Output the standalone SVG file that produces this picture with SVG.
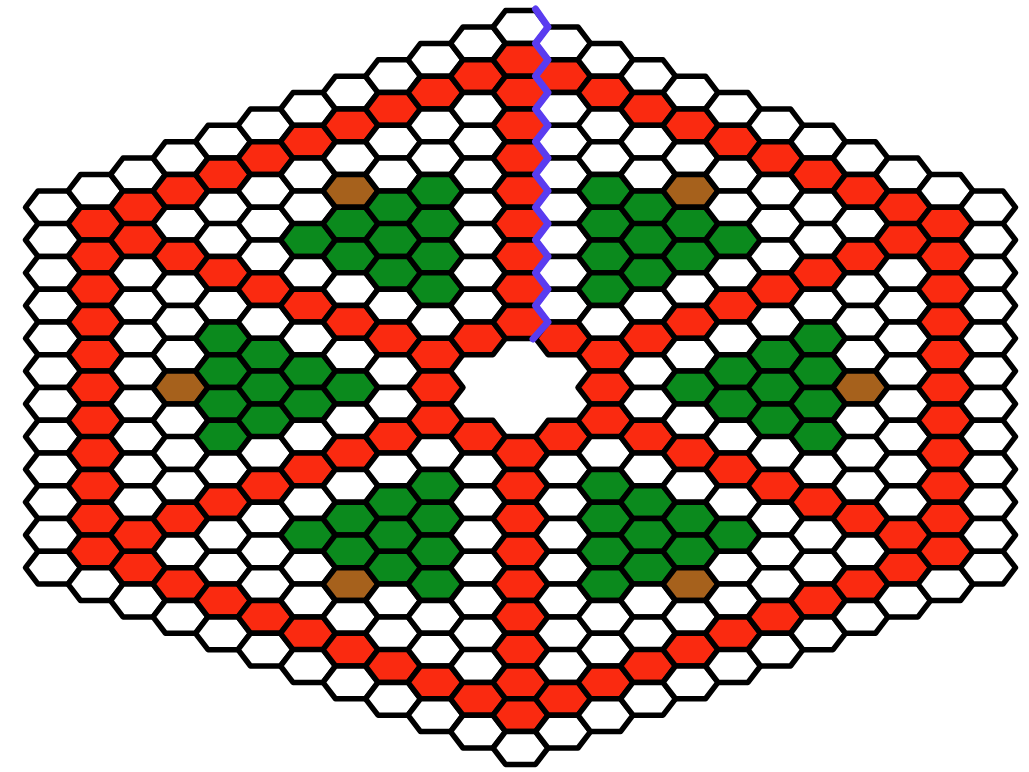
<svg xmlns="http://www.w3.org/2000/svg" width="1029" height="772" viewBox="0 0 1029 772">
<style>
.w{fill:#ffffff}.r{fill:#fa2a10}.g{fill:#0b8a1d}.b{fill:#a6611c}
.cut{fill:none;stroke:#5a3cf0;stroke-width:7;stroke-linejoin:round;stroke-linecap:round}
</style>
<defs><path id="h" d="M-27.5 0L-15 -16.385H15L27.5 0L15 16.385H-15Z" stroke="#000" stroke-width="5.5" stroke-linejoin="round"/></defs>
<rect width="1029" height="772" fill="#fff"/>
<g id="board">
<g id="col-m11" transform="translate(53 0)"><use href="#h" y="207.3" class="w"/><use href="#h" y="240" class="w"/><use href="#h" y="272.8" class="w"/><use href="#h" y="305.6" class="w"/><use href="#h" y="338.3" class="w"/><use href="#h" y="371.1" class="w"/><use href="#h" y="403.9" class="w"/><use href="#h" y="436.7" class="w"/><use href="#h" y="469.4" class="w"/><use href="#h" y="502.2" class="w"/><use href="#h" y="535" class="w"/><use href="#h" y="567.7" class="w"/></g>
<g id="col-m10" transform="translate(95.5 0)"><use href="#h" y="190.9" class="w"/><use href="#h" y="223.7" class="r"/><use href="#h" y="256.4" class="r"/><use href="#h" y="289.2" class="r"/><use href="#h" y="322" class="r"/><use href="#h" y="354.7" class="r"/><use href="#h" y="387.5" class="r"/><use href="#h" y="420.3" class="r"/><use href="#h" y="453" class="r"/><use href="#h" y="485.8" class="r"/><use href="#h" y="518.6" class="r"/><use href="#h" y="551.3" class="r"/><use href="#h" y="584.1" class="w"/></g>
<g id="col-m9" transform="translate(138 0)"><use href="#h" y="174.5" class="w"/><use href="#h" y="207.3" class="r"/><use href="#h" y="240" class="r"/><use href="#h" y="272.8" class="w"/><use href="#h" y="305.6" class="w"/><use href="#h" y="338.3" class="w"/><use href="#h" y="371.1" class="w"/><use href="#h" y="403.9" class="w"/><use href="#h" y="436.7" class="w"/><use href="#h" y="469.4" class="w"/><use href="#h" y="502.2" class="w"/><use href="#h" y="535" class="r"/><use href="#h" y="567.7" class="r"/><use href="#h" y="600.5" class="w"/></g>
<g id="col-m8" transform="translate(180.5 0)"><use href="#h" y="158.1" class="w"/><use href="#h" y="190.9" class="r"/><use href="#h" y="223.7" class="w"/><use href="#h" y="256.4" class="r"/><use href="#h" y="289.2" class="w"/><use href="#h" y="322" class="w"/><use href="#h" y="354.7" class="w"/><use href="#h" y="387.5" class="b"/><use href="#h" y="420.3" class="w"/><use href="#h" y="453" class="w"/><use href="#h" y="485.8" class="w"/><use href="#h" y="518.6" class="r"/><use href="#h" y="551.3" class="w"/><use href="#h" y="584.1" class="r"/><use href="#h" y="616.9" class="w"/></g>
<g id="col-m7" transform="translate(223 0)"><use href="#h" y="141.7" class="w"/><use href="#h" y="174.5" class="r"/><use href="#h" y="207.3" class="w"/><use href="#h" y="240" class="w"/><use href="#h" y="272.8" class="r"/><use href="#h" y="305.6" class="w"/><use href="#h" y="338.3" class="g"/><use href="#h" y="371.1" class="g"/><use href="#h" y="403.9" class="g"/><use href="#h" y="436.7" class="g"/><use href="#h" y="469.4" class="w"/><use href="#h" y="502.2" class="r"/><use href="#h" y="535" class="w"/><use href="#h" y="567.7" class="w"/><use href="#h" y="600.5" class="r"/><use href="#h" y="633.3" class="w"/></g>
<g id="col-m6" transform="translate(265.5 0)"><use href="#h" y="125.3" class="w"/><use href="#h" y="158.1" class="r"/><use href="#h" y="190.9" class="w"/><use href="#h" y="223.7" class="w"/><use href="#h" y="256.4" class="w"/><use href="#h" y="289.2" class="r"/><use href="#h" y="322" class="w"/><use href="#h" y="354.7" class="g"/><use href="#h" y="387.5" class="g"/><use href="#h" y="420.3" class="g"/><use href="#h" y="453" class="w"/><use href="#h" y="485.8" class="r"/><use href="#h" y="518.6" class="w"/><use href="#h" y="551.3" class="w"/><use href="#h" y="584.1" class="w"/><use href="#h" y="616.9" class="r"/><use href="#h" y="649.6" class="w"/></g>
<g id="col-m5" transform="translate(308 0)"><use href="#h" y="109" class="w"/><use href="#h" y="141.7" class="r"/><use href="#h" y="174.5" class="w"/><use href="#h" y="207.3" class="w"/><use href="#h" y="240" class="g"/><use href="#h" y="272.8" class="w"/><use href="#h" y="305.6" class="r"/><use href="#h" y="338.3" class="w"/><use href="#h" y="371.1" class="g"/><use href="#h" y="403.9" class="g"/><use href="#h" y="436.7" class="w"/><use href="#h" y="469.4" class="r"/><use href="#h" y="502.2" class="w"/><use href="#h" y="535" class="g"/><use href="#h" y="567.7" class="w"/><use href="#h" y="600.5" class="w"/><use href="#h" y="633.3" class="r"/><use href="#h" y="666" class="w"/></g>
<g id="col-m4" transform="translate(350.5 0)"><use href="#h" y="92.6" class="w"/><use href="#h" y="125.3" class="r"/><use href="#h" y="158.1" class="w"/><use href="#h" y="190.9" class="b"/><use href="#h" y="223.7" class="g"/><use href="#h" y="256.4" class="g"/><use href="#h" y="289.2" class="w"/><use href="#h" y="322" class="r"/><use href="#h" y="354.7" class="w"/><use href="#h" y="387.5" class="g"/><use href="#h" y="420.3" class="w"/><use href="#h" y="453" class="r"/><use href="#h" y="485.8" class="w"/><use href="#h" y="518.6" class="g"/><use href="#h" y="551.3" class="g"/><use href="#h" y="584.1" class="b"/><use href="#h" y="616.9" class="w"/><use href="#h" y="649.6" class="r"/><use href="#h" y="682.4" class="w"/></g>
<g id="col-m3" transform="translate(393 0)"><use href="#h" y="76.2" class="w"/><use href="#h" y="109" class="r"/><use href="#h" y="141.7" class="w"/><use href="#h" y="174.5" class="w"/><use href="#h" y="207.3" class="g"/><use href="#h" y="240" class="g"/><use href="#h" y="272.8" class="g"/><use href="#h" y="305.6" class="w"/><use href="#h" y="338.3" class="r"/><use href="#h" y="371.1" class="w"/><use href="#h" y="403.9" class="w"/><use href="#h" y="436.7" class="r"/><use href="#h" y="469.4" class="w"/><use href="#h" y="502.2" class="g"/><use href="#h" y="535" class="g"/><use href="#h" y="567.7" class="g"/><use href="#h" y="600.5" class="w"/><use href="#h" y="633.3" class="w"/><use href="#h" y="666" class="r"/><use href="#h" y="698.8" class="w"/></g>
<g id="col-m2" transform="translate(435.5 0)"><use href="#h" y="59.8" class="w"/><use href="#h" y="92.6" class="r"/><use href="#h" y="125.3" class="w"/><use href="#h" y="158.1" class="w"/><use href="#h" y="190.9" class="g"/><use href="#h" y="223.7" class="g"/><use href="#h" y="256.4" class="g"/><use href="#h" y="289.2" class="g"/><use href="#h" y="322" class="w"/><use href="#h" y="354.7" class="r"/><use href="#h" y="387.5" class="r"/><use href="#h" y="420.3" class="r"/><use href="#h" y="453" class="w"/><use href="#h" y="485.8" class="g"/><use href="#h" y="518.6" class="g"/><use href="#h" y="551.3" class="g"/><use href="#h" y="584.1" class="g"/><use href="#h" y="616.9" class="w"/><use href="#h" y="649.6" class="w"/><use href="#h" y="682.4" class="r"/><use href="#h" y="715.2" class="w"/></g>
<g id="col-m1" transform="translate(478 0)"><use href="#h" y="43.4" class="w"/><use href="#h" y="76.2" class="r"/><use href="#h" y="109" class="w"/><use href="#h" y="141.7" class="w"/><use href="#h" y="174.5" class="w"/><use href="#h" y="207.3" class="w"/><use href="#h" y="240" class="w"/><use href="#h" y="272.8" class="w"/><use href="#h" y="305.6" class="w"/><use href="#h" y="338.3" class="r"/><use href="#h" y="436.7" class="r"/><use href="#h" y="469.4" class="w"/><use href="#h" y="502.2" class="w"/><use href="#h" y="535" class="w"/><use href="#h" y="567.7" class="w"/><use href="#h" y="600.5" class="w"/><use href="#h" y="633.3" class="w"/><use href="#h" y="666" class="w"/><use href="#h" y="698.8" class="r"/><use href="#h" y="731.6" class="w"/></g>
<g id="col-0" transform="translate(520.5 0)"><use href="#h" y="27" class="w"/><use href="#h" y="59.8" class="r"/><use href="#h" y="92.6" class="r"/><use href="#h" y="125.3" class="r"/><use href="#h" y="158.1" class="r"/><use href="#h" y="190.9" class="r"/><use href="#h" y="223.7" class="r"/><use href="#h" y="256.4" class="r"/><use href="#h" y="289.2" class="r"/><use href="#h" y="322" class="r"/><use href="#h" y="453" class="r"/><use href="#h" y="485.8" class="r"/><use href="#h" y="518.6" class="r"/><use href="#h" y="551.3" class="r"/><use href="#h" y="584.1" class="r"/><use href="#h" y="616.9" class="r"/><use href="#h" y="649.6" class="r"/><use href="#h" y="682.4" class="r"/><use href="#h" y="715.2" class="r"/><use href="#h" y="748" class="w"/></g>
<g id="col-p1" transform="translate(563 0)"><use href="#h" y="43.4" class="w"/><use href="#h" y="76.2" class="r"/><use href="#h" y="109" class="w"/><use href="#h" y="141.7" class="w"/><use href="#h" y="174.5" class="w"/><use href="#h" y="207.3" class="w"/><use href="#h" y="240" class="w"/><use href="#h" y="272.8" class="w"/><use href="#h" y="305.6" class="w"/><use href="#h" y="338.3" class="r"/><use href="#h" y="436.7" class="r"/><use href="#h" y="469.4" class="w"/><use href="#h" y="502.2" class="w"/><use href="#h" y="535" class="w"/><use href="#h" y="567.7" class="w"/><use href="#h" y="600.5" class="w"/><use href="#h" y="633.3" class="w"/><use href="#h" y="666" class="w"/><use href="#h" y="698.8" class="r"/><use href="#h" y="731.6" class="w"/></g>
<g id="col-p2" transform="translate(605.5 0)"><use href="#h" y="59.8" class="w"/><use href="#h" y="92.6" class="r"/><use href="#h" y="125.3" class="w"/><use href="#h" y="158.1" class="w"/><use href="#h" y="190.9" class="g"/><use href="#h" y="223.7" class="g"/><use href="#h" y="256.4" class="g"/><use href="#h" y="289.2" class="g"/><use href="#h" y="322" class="w"/><use href="#h" y="354.7" class="r"/><use href="#h" y="387.5" class="r"/><use href="#h" y="420.3" class="r"/><use href="#h" y="453" class="w"/><use href="#h" y="485.8" class="g"/><use href="#h" y="518.6" class="g"/><use href="#h" y="551.3" class="g"/><use href="#h" y="584.1" class="g"/><use href="#h" y="616.9" class="w"/><use href="#h" y="649.6" class="w"/><use href="#h" y="682.4" class="r"/><use href="#h" y="715.2" class="w"/></g>
<g id="col-p3" transform="translate(648 0)"><use href="#h" y="76.2" class="w"/><use href="#h" y="109" class="r"/><use href="#h" y="141.7" class="w"/><use href="#h" y="174.5" class="w"/><use href="#h" y="207.3" class="g"/><use href="#h" y="240" class="g"/><use href="#h" y="272.8" class="g"/><use href="#h" y="305.6" class="w"/><use href="#h" y="338.3" class="r"/><use href="#h" y="371.1" class="w"/><use href="#h" y="403.9" class="w"/><use href="#h" y="436.7" class="r"/><use href="#h" y="469.4" class="w"/><use href="#h" y="502.2" class="g"/><use href="#h" y="535" class="g"/><use href="#h" y="567.7" class="g"/><use href="#h" y="600.5" class="w"/><use href="#h" y="633.3" class="w"/><use href="#h" y="666" class="r"/><use href="#h" y="698.8" class="w"/></g>
<g id="col-p4" transform="translate(690.5 0)"><use href="#h" y="92.6" class="w"/><use href="#h" y="125.3" class="r"/><use href="#h" y="158.1" class="w"/><use href="#h" y="190.9" class="b"/><use href="#h" y="223.7" class="g"/><use href="#h" y="256.4" class="g"/><use href="#h" y="289.2" class="w"/><use href="#h" y="322" class="r"/><use href="#h" y="354.7" class="w"/><use href="#h" y="387.5" class="g"/><use href="#h" y="420.3" class="w"/><use href="#h" y="453" class="r"/><use href="#h" y="485.8" class="w"/><use href="#h" y="518.6" class="g"/><use href="#h" y="551.3" class="g"/><use href="#h" y="584.1" class="b"/><use href="#h" y="616.9" class="w"/><use href="#h" y="649.6" class="r"/><use href="#h" y="682.4" class="w"/></g>
<g id="col-p5" transform="translate(733 0)"><use href="#h" y="109" class="w"/><use href="#h" y="141.7" class="r"/><use href="#h" y="174.5" class="w"/><use href="#h" y="207.3" class="w"/><use href="#h" y="240" class="g"/><use href="#h" y="272.8" class="w"/><use href="#h" y="305.6" class="r"/><use href="#h" y="338.3" class="w"/><use href="#h" y="371.1" class="g"/><use href="#h" y="403.9" class="g"/><use href="#h" y="436.7" class="w"/><use href="#h" y="469.4" class="r"/><use href="#h" y="502.2" class="w"/><use href="#h" y="535" class="g"/><use href="#h" y="567.7" class="w"/><use href="#h" y="600.5" class="w"/><use href="#h" y="633.3" class="r"/><use href="#h" y="666" class="w"/></g>
<g id="col-p6" transform="translate(775.5 0)"><use href="#h" y="125.3" class="w"/><use href="#h" y="158.1" class="r"/><use href="#h" y="190.9" class="w"/><use href="#h" y="223.7" class="w"/><use href="#h" y="256.4" class="w"/><use href="#h" y="289.2" class="r"/><use href="#h" y="322" class="w"/><use href="#h" y="354.7" class="g"/><use href="#h" y="387.5" class="g"/><use href="#h" y="420.3" class="g"/><use href="#h" y="453" class="w"/><use href="#h" y="485.8" class="r"/><use href="#h" y="518.6" class="w"/><use href="#h" y="551.3" class="w"/><use href="#h" y="584.1" class="w"/><use href="#h" y="616.9" class="r"/><use href="#h" y="649.6" class="w"/></g>
<g id="col-p7" transform="translate(818 0)"><use href="#h" y="141.7" class="w"/><use href="#h" y="174.5" class="r"/><use href="#h" y="207.3" class="w"/><use href="#h" y="240" class="w"/><use href="#h" y="272.8" class="r"/><use href="#h" y="305.6" class="w"/><use href="#h" y="338.3" class="g"/><use href="#h" y="371.1" class="g"/><use href="#h" y="403.9" class="g"/><use href="#h" y="436.7" class="g"/><use href="#h" y="469.4" class="w"/><use href="#h" y="502.2" class="r"/><use href="#h" y="535" class="w"/><use href="#h" y="567.7" class="w"/><use href="#h" y="600.5" class="r"/><use href="#h" y="633.3" class="w"/></g>
<g id="col-p8" transform="translate(860.5 0)"><use href="#h" y="158.1" class="w"/><use href="#h" y="190.9" class="r"/><use href="#h" y="223.7" class="w"/><use href="#h" y="256.4" class="r"/><use href="#h" y="289.2" class="w"/><use href="#h" y="322" class="w"/><use href="#h" y="354.7" class="w"/><use href="#h" y="387.5" class="b"/><use href="#h" y="420.3" class="w"/><use href="#h" y="453" class="w"/><use href="#h" y="485.8" class="w"/><use href="#h" y="518.6" class="r"/><use href="#h" y="551.3" class="w"/><use href="#h" y="584.1" class="r"/><use href="#h" y="616.9" class="w"/></g>
<g id="col-p9" transform="translate(903 0)"><use href="#h" y="174.5" class="w"/><use href="#h" y="207.3" class="r"/><use href="#h" y="240" class="r"/><use href="#h" y="272.8" class="w"/><use href="#h" y="305.6" class="w"/><use href="#h" y="338.3" class="w"/><use href="#h" y="371.1" class="w"/><use href="#h" y="403.9" class="w"/><use href="#h" y="436.7" class="w"/><use href="#h" y="469.4" class="w"/><use href="#h" y="502.2" class="w"/><use href="#h" y="535" class="r"/><use href="#h" y="567.7" class="r"/><use href="#h" y="600.5" class="w"/></g>
<g id="col-p10" transform="translate(945.5 0)"><use href="#h" y="190.9" class="w"/><use href="#h" y="223.7" class="r"/><use href="#h" y="256.4" class="r"/><use href="#h" y="289.2" class="r"/><use href="#h" y="322" class="r"/><use href="#h" y="354.7" class="r"/><use href="#h" y="387.5" class="r"/><use href="#h" y="420.3" class="r"/><use href="#h" y="453" class="r"/><use href="#h" y="485.8" class="r"/><use href="#h" y="518.6" class="r"/><use href="#h" y="551.3" class="r"/><use href="#h" y="584.1" class="w"/></g>
<g id="col-p11" transform="translate(988 0)"><use href="#h" y="207.3" class="w"/><use href="#h" y="240" class="w"/><use href="#h" y="272.8" class="w"/><use href="#h" y="305.6" class="w"/><use href="#h" y="338.3" class="w"/><use href="#h" y="371.1" class="w"/><use href="#h" y="403.9" class="w"/><use href="#h" y="436.7" class="w"/><use href="#h" y="469.4" class="w"/><use href="#h" y="502.2" class="w"/><use href="#h" y="535" class="w"/><use href="#h" y="567.7" class="w"/></g>
</g>
<g id="connectors">
<polyline class="cut" points="535.5,9 548,27 535.5,43.4 548,59.8 535.5,76.2 548,92.6 535.5,109 548,125.3 535.5,141.7 548,158.1 535.5,174.5 548,190.9 535.5,207.3 548,223.7 535.5,240 548,256.4 535.5,272.8 548,289.2 535.5,305.6 548,322 533,339"/>
</g>
</svg>
